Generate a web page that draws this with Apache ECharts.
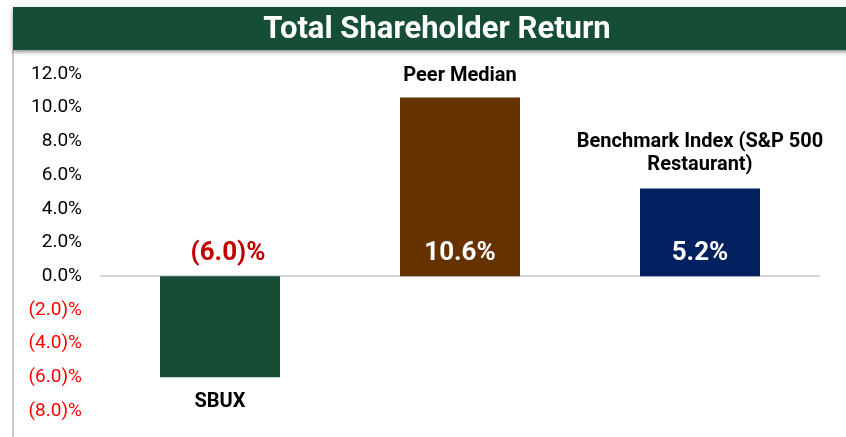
<!DOCTYPE html>
<html>
<head>
<meta charset="utf-8">
<script src="https://cdn.jsdelivr.net/npm/echarts@6/dist/echarts.min.js"></script>
<style>
  html, body { margin: 0; padding: 0; background: #fff; }
  #chart { width: 846px; height: 437px; }
</style>
</head>
<body>
<div id="chart"></div>
<script>
var categories = ['SBUX', 'Peer Median', 'Benchmark Index (S&P 500\nRestaurant)'];
var returns = [-6.0, 10.6, 5.2];
var barColors = ['#154d35', '#663300', '#002060'];
var valueColors = ['#c00000', '#ffffff', '#ffffff'];

function pct(v) {
    return v < 0 ? '(' + Math.abs(v).toFixed(1) + ')%' : v.toFixed(1) + '%';
}

var myChart = echarts.init(document.getElementById('chart'));
myChart.setOption({
    animation: false,
    textStyle: { fontFamily: 'Roboto' },
    graphic: [
        {
            type: 'rect',
            shape: { x: 13, y: 7, width: 840, height: 43 },
            style: { fill: '#154d35', shadowBlur: 4, shadowOffsetY: 2, shadowColor: 'rgba(0,0,0,0.45)' },
            z: 10
        },
        {
            type: 'text',
            x: 437, y: 30,
            style: {
                text: 'Total Shareholder Return',
                fill: '#fff', font: 'bold 31px Roboto',
                align: 'center', verticalAlign: 'middle'
            },
            z: 11
        },
        {
            type: 'line',
            shape: { x1: 13, y1: 50, x2: 13, y2: 437 },
            style: { stroke: '#c8c8c8', lineWidth: 2 }
        }
    ],
    grid: { left: 100, right: 26, top: 74, bottom: 26 },
    xAxis: {
        type: 'category',
        data: categories,
        axisLine: { show: false },
        axisTick: { show: false },
        axisLabel: { show: false }
    },
    yAxis: {
        type: 'value',
        min: -8, max: 12, interval: 2,
        splitLine: { show: false },
        axisLine: { show: false },
        axisTick: { show: false },
        axisLabel: {
            margin: 18,
            fontSize: 19,
            formatter: function (v) { return pct(v); },
            color: function (v) { return v < 0 ? '#ff0000' : '#000'; }
        }
    },
    series: [
        {
            type: 'bar',
            barWidth: '50%',
            data: returns.map(function (v, i) {
                return {
                    value: v,
                    itemStyle: { color: barColors[i] },
                    label: {
                        show: true,
                        position: v < 0 ? 'bottom' : 'top',
                        distance: v < 0 ? 13 : (i === 2 ? 12 : 10),
                        formatter: categories[i],
                        fontSize: 20,
                        fontWeight: 'bold',
                        color: '#000',
                        lineHeight: 23
                    }
                };
            }),
            markLine: {
                silent: true,
                symbol: 'none',
                label: { show: false },
                lineStyle: { color: '#d9d9d9', width: 2, type: 'solid' },
                data: [{ yAxis: 0 }],
                z: 1
            }
        },
        {
            type: 'scatter',
            symbolSize: 0,
            silent: true,
            z: 5,
            itemStyle: { opacity: 1 },
            data: returns.map(function (v, i) {
                return {
                    value: [categories[i], 0],
                    label: {
                        show: true,
                        position: 'top',
                        distance: 10,
                        offset: v < 0 ? [8, 0] : [0, 0],
                        formatter: pct(v),
                        fontSize: 26,
                        fontWeight: 'bold',
                        color: valueColors[i]
                    }
                };
            })
        }
    ]
});
</script>
</body>
</html>
